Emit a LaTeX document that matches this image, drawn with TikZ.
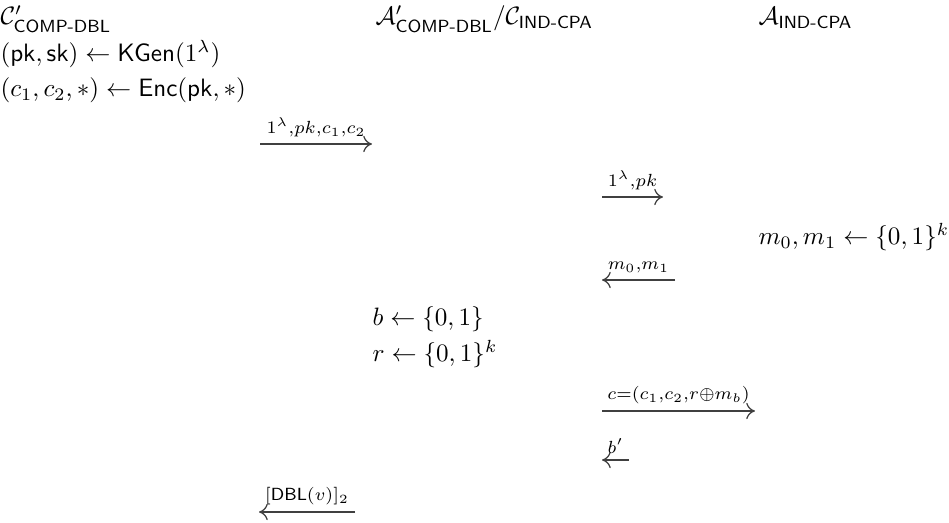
\documentclass[tikz,border=0pt]{standalone}
\usepackage{amsmath,amssymb}
\usetikzlibrary{arrows.meta}
\begin{document}
\begin{tikzpicture}[x=0.398pt,y=-0.398pt,
  txt/.style={anchor=base west,inner sep=0pt},
  msg/.style={draw=black!75,line width=0.5pt,-{Computer Modern Rightarrow[length=3.5pt,width=6.5pt]}},
  lbl/.style={above,inner sep=2.4pt}]
\useasboundingbox (0,0) rectangle (949,523);
% titles
\node[txt] (t1) at (0,25) {$\mathcal{C}'_{\textsf{COMP-DBL}}$};
\node[txt] (t2) at (375,25) {$\mathcal{A}'_{\textsf{COMP-DBL}}/\mathcal{C}_{\textsf{IND-CPA}}$};
\node[txt] (t3) at (758,25) {$\mathcal{A}_{\textsf{IND-CPA}}$};
% challenger steps
\node[txt] (s1) at (0,62) {$(\mathsf{pk},\mathsf{sk})\leftarrow\mathsf{KGen}(1^\lambda)$};
\node[txt] (s2) at (0,97) {$(c_1,c_2,*)\leftarrow\mathsf{Enc}(\mathsf{pk},*)$};
% reduction steps
\node[txt] (s3) at (372,326) {$b\leftarrow\{0,1\}$};
\node[txt] (s4) at (372,362) {$r\leftarrow\{0,1\}^k$};
% adversary step
\node[txt] (s5) at (758,245) {$m_0,m_1\leftarrow\{0,1\}^k$};
% arrow ends
\coordinate (a1s) at (260,144); \coordinate (a1e) at (372,144);
\coordinate (a2s) at (602,197); \coordinate (a2e) at (663,197);
\coordinate (a3s) at (675,280); \coordinate (a3e) at (602,280);
\coordinate (a4s) at (602,411); \coordinate (a4e) at (755,411);
\coordinate (a5s) at (629,460); \coordinate (a5e) at (602,460);
\coordinate (a6s) at (355,512); \coordinate (a6e) at (259,512);
\draw[msg] (a1s) -- node[lbl] (l1) {$\scriptstyle 1^\lambda,pk,c_1,c_2$} (a1e);
\draw[msg] (a2s) -- node[lbl] (l2) {$\scriptstyle 1^\lambda,pk$} (a2e);
\draw[msg] (a3s) -- node[lbl] (l3) {$\scriptstyle m_0,m_1$} (a3e);
\draw[msg] (a4s) -- node[lbl] (l4) {$\scriptstyle c=(c_1,c_2,r\oplus m_b)$} (a4e);
\draw[msg] (a5s) -- node[lbl] (l5) {$\scriptstyle b'$} (a5e);
\draw[msg] (a6s) -- node[lbl] (l6) {$\scriptstyle [\mathsf{DBL}(v)]_2$} (a6e);
\end{tikzpicture}
\end{document}
